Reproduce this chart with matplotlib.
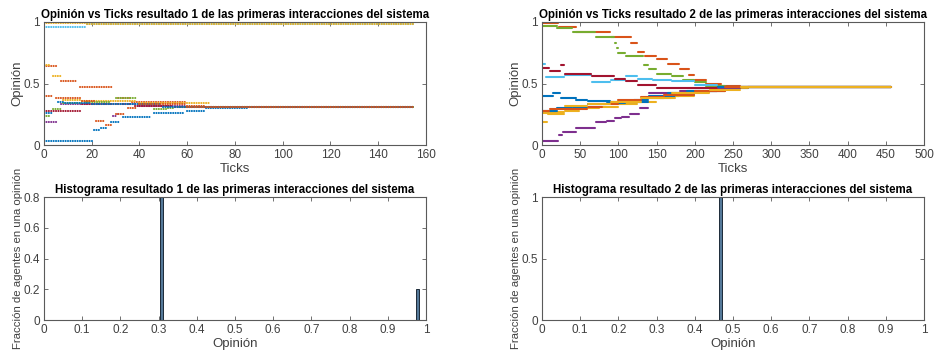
import numpy as np
import matplotlib
matplotlib.use("Agg")
import matplotlib.pyplot as plt

plt.rcParams['font.family'] = ['Liberation Sans', 'DejaVu Sans']

# MATLAB default colour order
colors = ['#0072BD', '#D95319', '#EDB120', '#7E2F8E', '#77AC30', '#4DBEEE', '#A2142F']

# result 1: (tick where the value starts, opinion) for each agent
r1_end = 155
r1_agent1 = [(0, 0.03), (21, 0.12), (24, 0.14), (28, 0.19), (33, 0.23), (46, 0.26), (60, 0.28), (68, 0.30), (87, 0.31)]
r1_agent2 = [(0, 0.64), (7, 0.52), (15, 0.47), (30, 0.43), (31, 0.38), (37, 0.35), (60, 0.32), (69, 0.31)]
r1_agent3 = [(0, 0.65), (4, 0.56), (8, 0.37), (16, 0.36), (40, 0.34), (70, 0.31)]
r1_agent4 = [(0, 0.19), (7, 0.33), (29, 0.24), (31, 0.25), (33, 0.33), (40, 0.32), (60, 0.31)]
r1_agent5 = [(0, 0.24), (4, 0.29), (8, 0.34), (17, 0.35), (29, 0.29), (30, 0.38), (40, 0.33), (46, 0.29), (52, 0.30), (56, 0.31)]
r1_agent6 = [(0, 0.96), (18, 0.98)]
r1_agent7 = [(0, 0.28), (16, 0.33), (38, 0.32), (55, 0.31)]
r1_agent8 = [(0, 0.26), (5, 0.45), (6, 0.35), (9, 0.34), (20, 0.33), (50, 0.31)]
r1_agent9 = [(0, 0.40), (5, 0.38), (16, 0.36), (22, 0.20), (26, 0.16), (30, 0.25), (35, 0.30), (40, 0.33), (60, 0.31)]
r1_agent10 = [(0, 0.99), (18, 0.98)]

# result 2
r2_end = 457
r2_agent1 = [(0, 0.40), (15, 0.42), (25, 0.38), (45, 0.37), (60, 0.36), (90, 0.35), (120, 0.37), (140, 0.38), (160, 0.40),
             (180, 0.41), (200, 0.43), (220, 0.44), (240, 0.46), (270, 0.47)]
r2_agent2 = [(0, 0.99), (22, 0.96), (45, 0.92), (90, 0.88), (117, 0.83), (125, 0.76), (135, 0.72), (150, 0.70), (165, 0.66),
             (180, 0.62), (193, 0.57), (200, 0.53), (215, 0.50), (235, 0.48), (260, 0.47)]
r2_agent3 = [(0, 0.26), (10, 0.27), (30, 0.28), (50, 0.30), (75, 0.31), (100, 0.33), (125, 0.35), (150, 0.38), (175, 0.40),
             (200, 0.43), (220, 0.44), (240, 0.46), (270, 0.47)]
r2_agent4 = [(0, 0.03), (22, 0.08), (27, 0.11), (45, 0.14), (70, 0.19), (85, 0.20), (95, 0.22), (105, 0.23), (115, 0.25),
             (128, 0.30), (140, 0.42), (180, 0.44), (230, 0.46), (260, 0.47)]
r2_agent5 = [(0, 0.97), (20, 0.95), (40, 0.92), (70, 0.88), (95, 0.83), (98, 0.79), (100, 0.75), (110, 0.72), (133, 0.65),
             (140, 0.62), (150, 0.58), (170, 0.56), (185, 0.53), (200, 0.51), (215, 0.48), (240, 0.47)]
r2_agent6 = [(0, 0.66), (5, 0.55), (30, 0.57), (65, 0.51), (90, 0.53), (110, 0.56), (125, 0.54), (145, 0.53), (170, 0.52),
             (200, 0.49), (230, 0.47)]
r2_agent7 = [(0, 0.63), (10, 0.60), (25, 0.65), (30, 0.58), (65, 0.56), (95, 0.54), (110, 0.52), (125, 0.49), (150, 0.46),
             (230, 0.47)]
r2_agent8 = [(0, 0.28), (20, 0.30), (40, 0.31), (60, 0.33), (85, 0.34), (110, 0.35), (140, 0.40), (165, 0.42), (190, 0.44),
             (230, 0.47)]
r2_agent9 = [(0, 0.28), (10, 0.29), (60, 0.31), (80, 0.33), (100, 0.37), (130, 0.39), (160, 0.41), (200, 0.44), (240, 0.47)]
r2_agent10 = [(0, 0.19), (8, 0.25), (30, 0.32), (60, 0.33), (90, 0.35), (130, 0.38), (170, 0.42), (220, 0.45), (260, 0.47)]

r1_agents = [r1_agent1, r1_agent2, r1_agent3, r1_agent4, r1_agent5, r1_agent6, r1_agent7, r1_agent8, r1_agent9, r1_agent10]
r2_agents = [r2_agent1, r2_agent2, r2_agent3, r2_agent4, r2_agent5, r2_agent6, r2_agent7, r2_agent8, r2_agent9, r2_agent10]

# histograms: bin centre and fraction of agents
h1_centers = [0.307, 0.979]
h1_fraction = [0.8, 0.2]
h2_centers = [0.468]
h2_fraction = [1.0]

fig = plt.figure(figsize=(9.35, 3.54), dpi=100)
ax1 = fig.add_axes([0.047, 0.590, 0.4086, 0.348])
ax2 = fig.add_axes([0.5797, 0.590, 0.4086, 0.348])
ax3 = fig.add_axes([0.047, 0.096, 0.4086, 0.3475])
ax4 = fig.add_axes([0.5797, 0.096, 0.4086, 0.3475])

grey = '#404040'


def style(ax):
    for s in ax.spines.values():
        s.set_color('#5a5a5a')
        s.set_linewidth(0.8)
    ax.tick_params(direction='in', top=True, right=True, length=3, width=0.6,
                   colors='#5a5a5a', labelcolor=grey, labelsize=8.5, pad=3)


def draw_steps(ax, agents, end, dots, lw):
    for i, ag in enumerate(agents):
        c = colors[i % len(colors)]
        for j, (t, v) in enumerate(ag):
            t2 = ag[j + 1][0] - 1 if j + 1 < len(ag) else end
            if t2 < t:
                t2 = t
            ax.hlines(v, t, t2, colors=c, linewidth=lw, linestyles=dots, capstyle='round')


draw_steps(ax1, r1_agents, r1_end, (0, (0.05, 1.1)), 1.5)
ax1.set_xlim(0, 160)
ax1.set_ylim(0, 1)
ax1.set_xticks(np.arange(0, 161, 20))
ax1.set_yticks([0, 0.5, 1])
ax1.set_yticklabels(['0', '0.5', '1'])

draw_steps(ax2, r2_agents, r2_end, '-', 1.5)
ax2.set_xlim(0, 500)
ax2.set_ylim(0, 1)
ax2.set_xticks(np.arange(0, 501, 50))
ax2.set_yticks([0, 0.5, 1])
ax2.set_yticklabels(['0', '0.5', '1'])

for ax, n in [(ax1, 1), (ax2, 2)]:
    ax.set_title('Opinión vs Ticks resultado %d de las primeras interacciones del sistema' % n,
                 fontsize=8.3, fontweight='bold', pad=3)
    ax.set_xlabel('Ticks', fontsize=9.5, color=grey, labelpad=1)
    ax.set_ylabel('Opinión', fontsize=9.5, color=grey, labelpad=0)

ax3.bar(h1_centers, h1_fraction, width=0.008, color='#557999', edgecolor='#1c2a38', linewidth=0.7)
ax3.set_ylim(0, 0.8)
ax3.set_yticks([0, 0.2, 0.4, 0.6, 0.8])
ax3.set_yticklabels(['0', '0.2', '0.4', '0.6', '0.8'])

ax4.bar(h2_centers, h2_fraction, width=0.008, color='#557999', edgecolor='#1c2a38', linewidth=0.7)
ax4.set_ylim(0, 1)
ax4.set_yticks([0, 0.5, 1])
ax4.set_yticklabels(['0', '0.5', '1'])

xt = np.round(np.arange(0, 1.01, 0.1), 1)
for ax, n in [(ax3, 1), (ax4, 2)]:
    ax.set_xlim(0, 1)
    ax.set_xticks(xt)
    ax.set_xticklabels(['0'] + ['%.1f' % x for x in xt[1:-1]] + ['1'])
    ax.set_title('Histograma resultado %d de las primeras interacciones del sistema' % n,
                 fontsize=8.3, fontweight='bold', pad=3)
    ax.set_xlabel('Opinión', fontsize=9.5, color=grey, labelpad=1)
    ax.set_ylabel('Fracción de agentes en una opinión', fontsize=8.2, color=grey, labelpad=0)

for ax in [ax1, ax2, ax3, ax4]:
    style(ax)

fig.savefig('out.png', dpi=100)
